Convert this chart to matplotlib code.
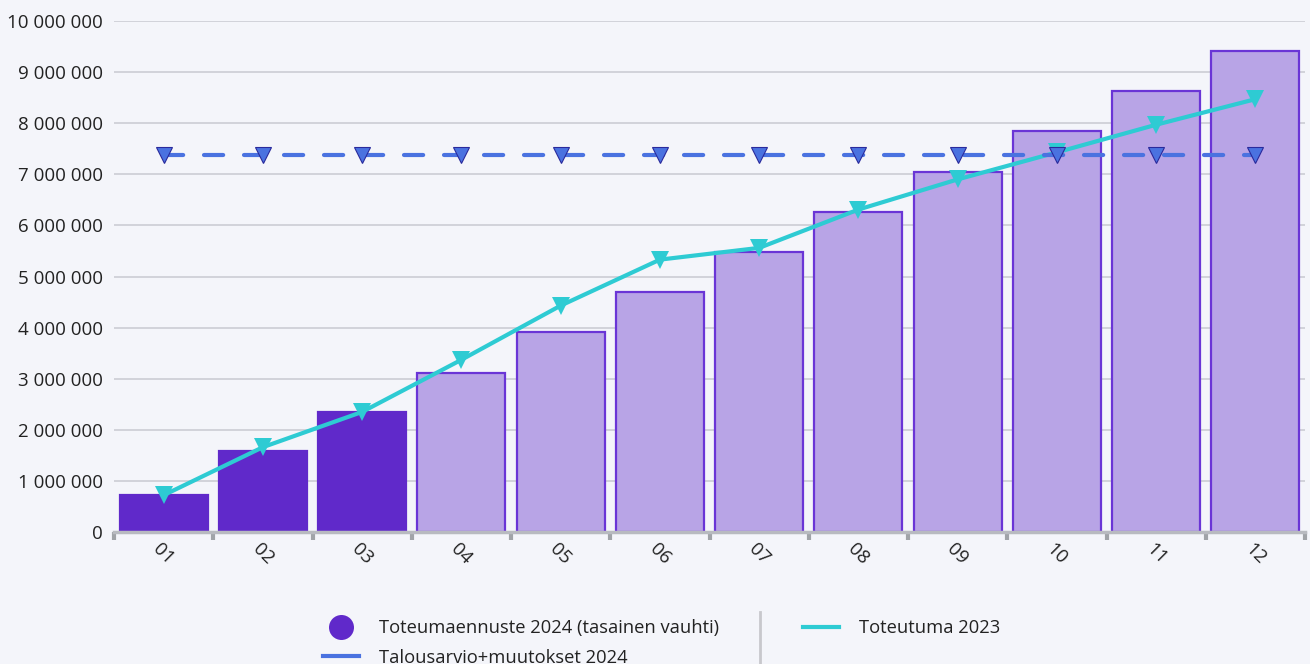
import matplotlib
matplotlib.use("Agg")
import matplotlib.pyplot as plt
from matplotlib.lines import Line2D
from matplotlib.ticker import FuncFormatter, FixedLocator
import numpy as np

months = ["01", "02", "03", "04", "05", "06", "07", "08", "09", "10", "11", "12"]
ennuste_2024 = [724000, 1585000, 2350000, 3115000, 3910000, 4700000,
                5480000, 6265000, 7050000, 7840000, 8625000, 9410000]
toteutunut = [True, True, True, False, False, False, False, False, False, False, False, False]
talousarvio_2024 = [7370000] * 12
toteutuma_2023 = [720000, 1660000, 2350000, 3370000, 4430000, 5330000,
                  5560000, 6310000, 6900000, 7430000, 7970000, 8470000]
yticks = [0, 1e6, 2e6, 3e6, 4e6, 5e6, 6e6, 7e6, 8e6, 9e6, 1e7]

labels = ["Toteumaennuste 2024 (tasainen vauhti)", "Talousarvio+muutokset 2024", "Toteutuma 2023"]

BG = "#f4f5fa"
PURPLE = "#6029ca"
LIGHT = "#b8a4e6"
EDGE = "#6a35d6"
CYAN = "#2ecbd3"
BLUE = "#4a72e0"
FONT = ["Open Sans", "DejaVu Sans"]
FS = 13.5
LFS = 13.2

plt.rcParams["font.family"] = FONT

fig = plt.figure(figsize=(13.1, 6.64), dpi=100, facecolor=BG)
ax = fig.add_axes([114 / 1310, 1 - 532 / 664, (1305 - 114) / 1310, (532 - 21) / 664])
ax.set_facecolor(BG)

x = np.arange(len(months))
fills = [PURPLE if t else LIGHT for t in toteutunut]
edges = [PURPLE if t else EDGE for t in toteutunut]
ax.bar(x, ennuste_2024, width=0.885, color=fills, edgecolor=edges, linewidth=1.6, zorder=2)

ax.plot(x, toteutuma_2023, color=CYAN, lw=3, marker="v", markersize=13,
        markeredgewidth=0, zorder=3)
ax.plot(x, talousarvio_2024, color=BLUE, lw=3, dashes=(4.6, 5.0),
        dash_capstyle="round", marker="v", markersize=12,
        markerfacecolor=BLUE, markeredgecolor="#2a2a9c", markeredgewidth=0.8, zorder=4)

ax.set_xlim(-0.5, 11.5)
ax.set_ylim(0, 1e7)
ax.set_yticks(yticks)
ax.yaxis.set_major_formatter(FuncFormatter(lambda v, p: f"{int(v):,}".replace(",", " ")))
ax.grid(axis="y", color="#d2d3da", lw=1.4, zorder=0)
ax.set_axisbelow(True)

ax.set_xticks(x)
ax.set_xticklabels(months, rotation=-45, ha="center", va="top")
ax.xaxis.set_minor_locator(FixedLocator(np.arange(-0.5, 12, 1.0)))
ax.tick_params(axis="x", which="major", length=0, pad=6, labelsize=FS, colors="#222222")
ax.tick_params(axis="x", which="minor", length=6, width=3, color="#a0a3a8", direction="out")
ax.tick_params(axis="y", length=0, pad=8, labelsize=FS, colors="#222222")

for s in ["top", "right", "left"]:
    ax.spines[s].set_visible(False)
ax.spines["bottom"].set_color("#b8bac0")
ax.spines["bottom"].set_linewidth(2.5)

handles = [
    Line2D([], [], lw=0, marker="o", markersize=18, markerfacecolor=PURPLE, markeredgewidth=0),
    Line2D([], [], color=BLUE, lw=3),
    Line2D([], [], color=CYAN, lw=3),
]
leg = fig.legend(handles, labels, ncol=2, loc="upper left",
                 bbox_to_anchor=(314 / 1310, 1 - 610 / 664), frameon=False,
                 fontsize=LFS, handlelength=1.95, handletextpad=1.1,
                 columnspacing=4.6, labelspacing=0.62, borderpad=0)
for t in leg.get_texts():
    t.set_color("#222222")

fig.add_artist(Line2D([760 / 1310, 760 / 1310], [1 - 612 / 664, 0], transform=fig.transFigure,
                      color="#c8c8cc", lw=2))

fig.savefig("out.png", dpi=100, facecolor=BG)
